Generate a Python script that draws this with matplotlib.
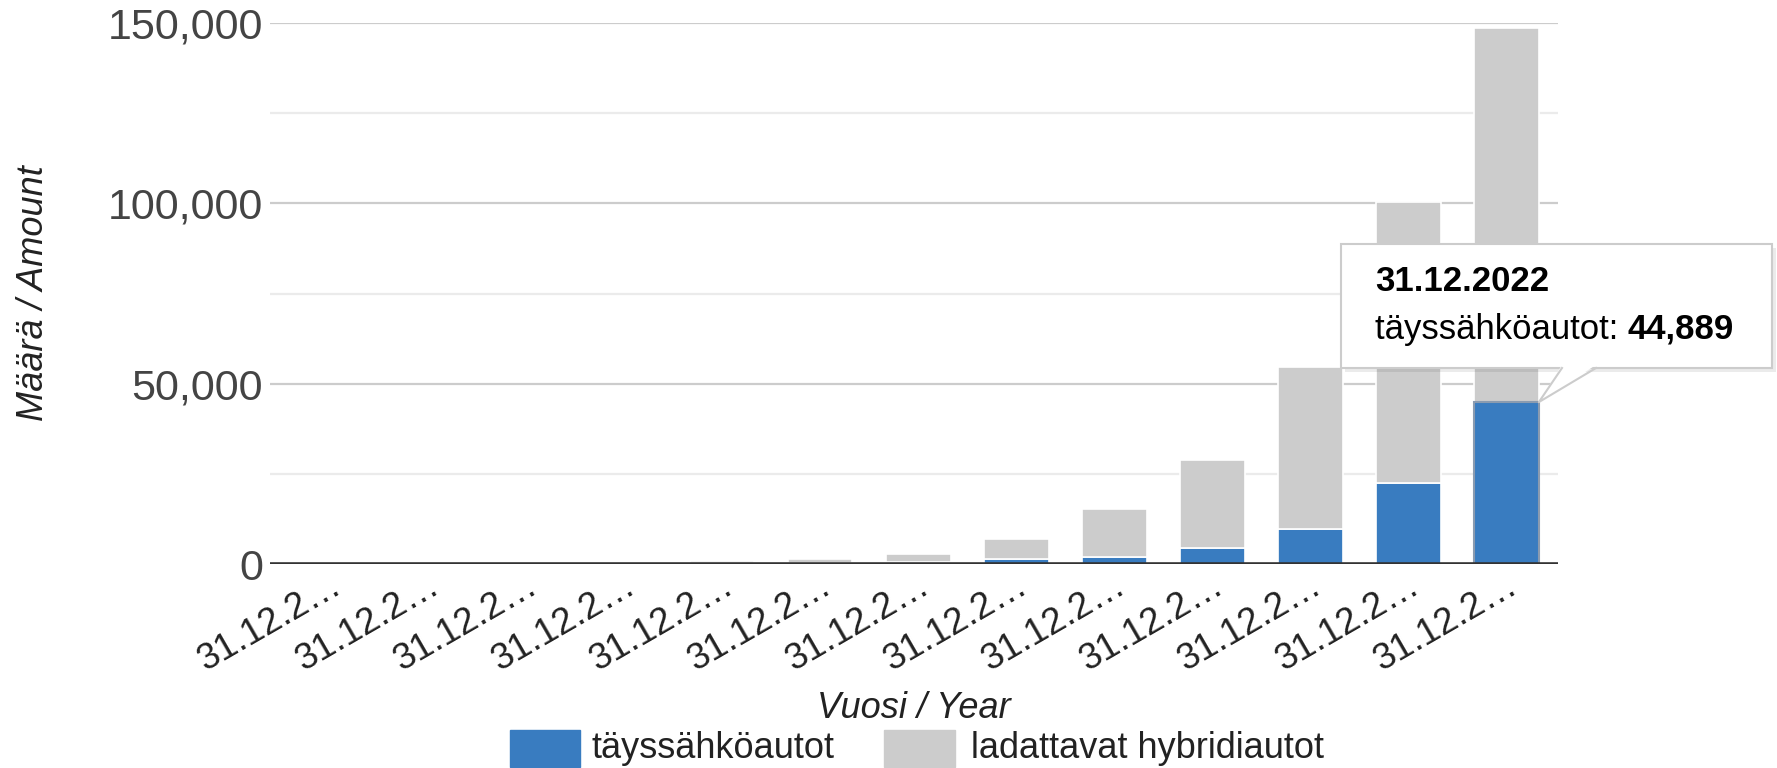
import numpy as np
import matplotlib
matplotlib.use("Agg")
import matplotlib.pyplot as plt
from matplotlib.patches import FancyBboxPatch, Polygon, Rectangle

plt.rcParams['font.family'] = ['Liberation Sans', 'DejaVu Sans']

years = ["31.12.2010", "31.12.2011", "31.12.2012", "31.12.2013", "31.12.2014",
         "31.12.2015", "31.12.2016", "31.12.2017", "31.12.2018", "31.12.2019",
         "31.12.2020", "31.12.2021", "31.12.2022"]
bev = [20, 60, 120, 220, 280, 380, 600, 1300, 2000, 4400, 9700, 22600, 44889]
phev = [0, 10, 40, 100, 450, 1050, 2200, 5600, 13250, 24400, 44860, 77700, 103800]
yticks = [0, 50000, 100000, 150000]
minor_ticks = [25000, 75000, 125000]
series_names = ["täyssähköautot", "ladattavat hybridiautot"]

blue = "#397cc0"
grey = "#cccccc"

fig = plt.figure(figsize=(17.77, 7.68), dpi=100)
ax = fig.add_axes([0.152, 0.2656, 0.725, 0.7044])

x = np.arange(len(years))
w = 0.66
ax.bar(x, bev, w, color=blue, edgecolor="white", linewidth=1.2, zorder=3)
ax.bar(x, phev, w, bottom=bev, color=grey, edgecolor="white", linewidth=1.2, zorder=3)
# hovered bar outline
ax.bar(x[-1], bev[-1], w, color=blue, edgecolor="#8a9bb0", linewidth=1.5, zorder=4)

ax.set_xlim(-0.61, 12.53)
ax.set_ylim(0, 150000)

for v in yticks[1:]:
    ax.axhline(v, color="#cccccc", lw=1.6, zorder=1)
for v in minor_ticks:
    ax.axhline(v, color="#ebebeb", lw=1.6, zorder=1)
ax.axhline(0, color="#333333", lw=2.6, zorder=5)

ax.set_yticks(yticks)
ax.set_yticklabels([f"{v:,}" for v in yticks], fontsize=31, color="#444444")
ax.set_xticks(x)
ax.set_xticklabels([y[:7] + "…" for y in years], rotation=30, ha="right",
                   rotation_mode="anchor", fontsize=26.5, color="#222222")
ax.tick_params(axis="both", length=0)
ax.tick_params(axis="y", pad=5)
ax.tick_params(axis="x", pad=3)
for s in ax.spines.values():
    s.set_visible(False)

ax.set_ylabel("Määrä / Amount", fontsize=26, style="italic", color="#222222")
ax.yaxis.set_label_coords(-0.17, 0.5)
ax.set_xlabel("Vuosi / Year", fontsize=26, style="italic", color="#222222")
ax.xaxis.set_label_coords(0.5, -0.235)

# legend
fig.patches.append(Rectangle((510 / 1777, 1 - 767 / 768), 70 / 1777, 37 / 768,
                             transform=fig.transFigure, color=blue))
fig.text(592 / 1777, 1 - 749 / 768, series_names[0], fontsize=26, color="#222222", va="center")
fig.patches.append(Rectangle((884 / 1777, 1 - 767 / 768), 71 / 1777, 37 / 768,
                             transform=fig.transFigure, color=grey))
fig.text(971 / 1777, 1 - 749 / 768, series_names[1], fontsize=26, color="#222222", va="center")

# tooltip
bx0, bx1 = 1341 / 1777, 1772 / 1777
by0, by1 = 1 - 368 / 768, 1 - 244 / 768
shadow = FancyBboxPatch((bx0 + 0.002, by0 - 0.005), bx1 - bx0, by1 - by0,
                        boxstyle="square,pad=0", transform=fig.transFigure,
                        facecolor="#000000", alpha=0.08, edgecolor="none", zorder=9)
box = FancyBboxPatch((bx0, by0), bx1 - bx0, by1 - by0, boxstyle="square,pad=0",
                     transform=fig.transFigure, facecolor="white",
                     edgecolor="#cccccc", linewidth=1.5, zorder=10)
fig.patches.extend([shadow, box])

tip = fig.transFigure.inverted().transform(ax.transData.transform((x[-1] + w / 2, bev[-1])))
base_l = (1562 / 1777, by0)
base_r = (1596 / 1777, by0)
ptr = Polygon([(base_l[0], by0 + 0.004), tip, (base_r[0], by0 + 0.004)], closed=True,
              transform=fig.transFigure, facecolor="white", edgecolor="none", zorder=11)
fig.patches.append(ptr)
fig.lines.append(plt.Line2D([base_l[0], tip[0], base_r[0]], [by0, tip[1], by0],
                            transform=fig.transFigure, color="#cccccc", lw=1.5, zorder=12))

fig.text(1375 / 1777, 1 - 281 / 768, years[-1], fontsize=25, fontweight="bold",
         color="#000000", va="center", zorder=13)
t2 = fig.text(1375 / 1777, 1 - 329 / 768, series_names[0] + ": ", fontsize=25,
              color="#000000", va="center", zorder=13)
fig.canvas.draw()
bb = t2.get_window_extent()
fig.text(bb.x1 / fig.bbox.width, 1 - 329 / 768, f"{bev[-1]:,}", fontsize=25,
         fontweight="bold", color="#000000", va="center", zorder=13)

fig.savefig("out.png", dpi=100, facecolor="white")
